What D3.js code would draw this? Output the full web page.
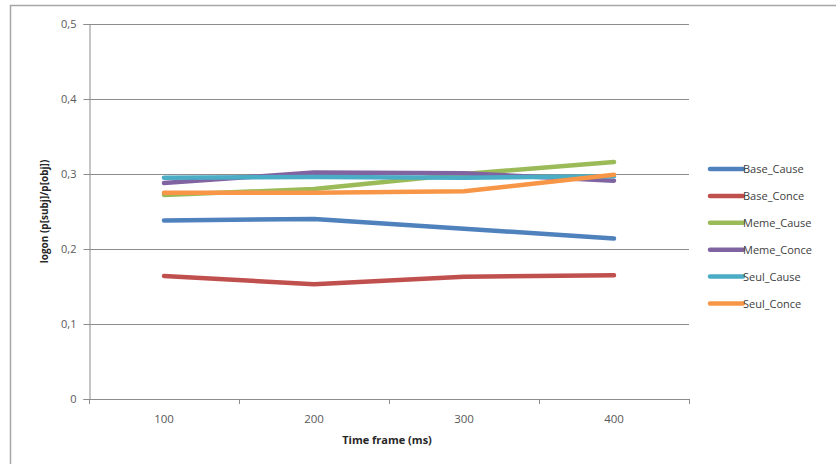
<!DOCTYPE html>
<html><head><meta charset="utf-8">
<script src="https://cdn.jsdelivr.net/npm/d3@7"></script>
<style>body{margin:0;background:#fff}svg{display:block}text{font-family:"Open Sans",sans-serif}</style>
</head><body><svg id="c" width="836" height="464"></svg>
<script>
const categories = ["100","200","300","400"];
const seriesNames = ["Base_Cause","Base_Conce","Meme_Cause","Meme_Conce","Seul_Cause","Seul_Conce"];
const baseCause = [0.238, 0.240, 0.227, 0.214];
const baseConce = [0.164, 0.153, 0.163, 0.165];
const memeCause = [0.272, 0.280, 0.300, 0.316];
const memeConce = [0.288, 0.302, 0.301, 0.291];
const seulCause = [0.295, 0.296, 0.295, 0.297];
const seulConce = [0.275, 0.275, 0.277, 0.299];
const yTicks = [0, 0.1, 0.2, 0.3, 0.4, 0.5];
const colors = ["#4F81BD","#C0504D","#9BBB59","#8064A2","#4BACC6","#F79646"];

const values = [baseCause, baseConce, memeCause, memeConce, seulCause, seulConce];
const series = seriesNames.map((n,i)=>({name:n, color:colors[i], values:values[i]}));

const svg = d3.select("#c");
svg.append("rect").attr("x",10.5).attr("y",5.5).attr("width",840).attr("height",470)
  .attr("fill","#fff").attr("stroke","#a6a6a6").attr("stroke-width",1.5);

const L=89, R=689, T=24, B=399;
const x = d3.scaleBand().domain(categories).range([L,R]);
const y = d3.scaleLinear().domain([0,0.5]).range([B,T]);
const fmt = d => d===0 ? "0" : d3.format(".1f")(d).replace(".",",");

// gridlines
svg.append("g").selectAll("line").data(yTicks.slice(1)).join("line")
  .attr("x1",L).attr("x2",R).attr("y1",d=>Math.round(y(d))+0.5).attr("y2",d=>Math.round(y(d))+0.5)
  .attr("stroke","#8c8c8c").attr("stroke-width",1);

// y axis
const ya = svg.append("g").attr("transform",`translate(${L+0.5},0)`)
  .call(d3.axisLeft(y).tickValues(yTicks).tickFormat(fmt).tickSize(6).tickPadding(7));
ya.select(".domain").attr("stroke","#8c8c8c");
ya.selectAll(".tick line").attr("stroke","#8c8c8c");
ya.selectAll("text").attr("fill","#595959").style("font-size","11px").style("font-family","'Open Sans',sans-serif");

// x axis
const xa = svg.append("g").attr("transform",`translate(0,${B+0.5})`)
  .call(d3.axisBottom(x).tickSize(0).tickPadding(15));
xa.select(".domain").attr("stroke","#8c8c8c").attr("d",`M${L-5},0H${R}`);
xa.selectAll("text").attr("fill","#595959").style("font-size","11.5px").style("font-family","'Open Sans',sans-serif");
svg.append("g").selectAll("line").data(d3.range(categories.length+1)).join("line")
  .attr("x1",i=>L+i*x.bandwidth()+0.5).attr("x2",i=>L+i*x.bandwidth()+0.5)
  .attr("y1",B).attr("y2",B+5).attr("stroke","#8c8c8c");

// lines
const line = d3.line().x((d,i)=>x(categories[i])+x.bandwidth()/2).y(d=>y(d));
svg.append("g").selectAll("path").data(series).join("path")
  .attr("d",d=>line(d.values)).attr("fill","none").attr("stroke",d=>d.color)
  .attr("stroke-width",4.5).attr("stroke-linecap","round").attr("stroke-linejoin","round");

// axis titles
svg.append("text").attr("x",(L+R)/2-2).attr("y",444).attr("text-anchor","middle")
  .style("font-size","11px").style("font-weight","bold").attr("fill","#262626").text("Time frame (ms)");
svg.append("text").attr("transform",`translate(48,${(T+B)/2}) rotate(-90)`).attr("text-anchor","middle")
  .style("font-size","10px").style("font-weight","bold").attr("fill","#262626").text("logon (p[subj]/p[obj])");

// legend
const lg = svg.append("g").selectAll("g").data(series).join("g")
  .attr("transform",(d,i)=>`translate(710,${169+i*26.9})`);
lg.append("line").attr("x1",0).attr("x2",33).attr("stroke",d=>d.color).attr("stroke-width",4.5).attr("stroke-linecap","round");
lg.append("text").attr("x",33).attr("y",4).style("font-size","11px").attr("fill","#404040").text(d=>d.name);
</script></body></html>
